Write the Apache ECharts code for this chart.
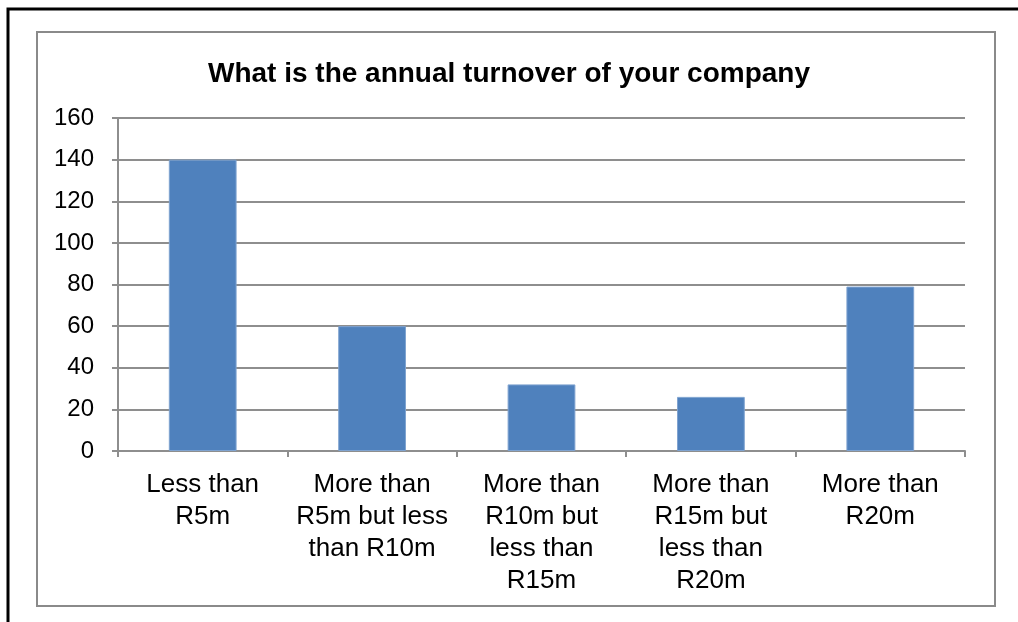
<!DOCTYPE html>
<html>
<head>
<meta charset="utf-8">
<title>Annual turnover</title>
<script src="https://cdn.jsdelivr.net/npm/echarts@6/dist/echarts.min.js"></script>
<style>
  html, body { margin: 0; padding: 0; background: #ffffff; }
  #chart { width: 1018px; height: 622px; }
</style>
</head>
<body>
<div id="chart"></div>
<script>
// Survey responses: annual turnover bands
const chartTitle = 'What is the annual turnover of your company';
const categories = [
  'Less than\nR5m',
  'More than\nR5m but less\nthan R10m',
  'More than\nR10m but\nless than\nR15m',
  'More than\nR15m but\nless than\nR20m',
  'More than\nR20m'
];
const responses = [140, 60, 32, 26, 79];
const yTicks = [0, 20, 40, 60, 80, 100, 120, 140, 160];

const gridColor = '#8e8e8e';
const fontFamily = '"Liberation Sans", Arial, sans-serif';

const chart = echarts.init(document.getElementById('chart'), null, { renderer: 'canvas' });

chart.setOption({
  backgroundColor: '#ffffff',
  animation: false,
  title: {
    text: chartTitle,
    left: 'center',
    top: 55,
    textStyle: { fontFamily, fontSize: 28, fontWeight: 'bold', color: '#000000' }
  },
  grid: { left: 118, right: 53, top: 118, bottom: 171 },
  xAxis: {
    type: 'category',
    data: categories,
    axisLine: { lineStyle: { color: gridColor, width: 2 } },
    axisTick: { show: true, length: 6, alignWithLabel: false, lineStyle: { color: gridColor, width: 2 } },
    axisLabel: {
      interval: 0,
      margin: 18,
      fontFamily,
      fontSize: 26,
      lineHeight: 32,
      color: '#000000',
      align: 'center'
    }
  },
  yAxis: {
    type: 'value',
    min: yTicks[0],
    max: yTicks[yTicks.length - 1],
    interval: yTicks[1] - yTicks[0],
    axisLine: { show: true, lineStyle: { color: gridColor, width: 2 } },
    axisTick: { show: true, length: 6, lineStyle: { color: gridColor, width: 2 } },
    splitLine: { show: true, lineStyle: { color: gridColor, width: 2 } },
    axisLabel: { margin: 24, fontFamily, fontSize: 24, color: '#000000' }
  },
  series: [{
    type: 'bar',
    data: responses,
    barWidth: '40%',
    itemStyle: { color: '#4f81bd', borderColor: '#7fa3d0', borderWidth: 1 }
  }],
  graphic: [
    {
      type: 'rect',
      shape: { x: 37, y: 32, width: 958, height: 574 },
      style: { fill: 'none', stroke: '#8a8a8a', lineWidth: 2 },
      silent: true,
      z: 100
    },
    {
      type: 'polyline',
      shape: { points: [[8, 622], [8, 9], [1018, 9]] },
      style: { fill: 'none', stroke: '#000000', lineWidth: 3 },
      silent: true,
      z: 100
    }
  ]
});
</script>
</body>
</html>
